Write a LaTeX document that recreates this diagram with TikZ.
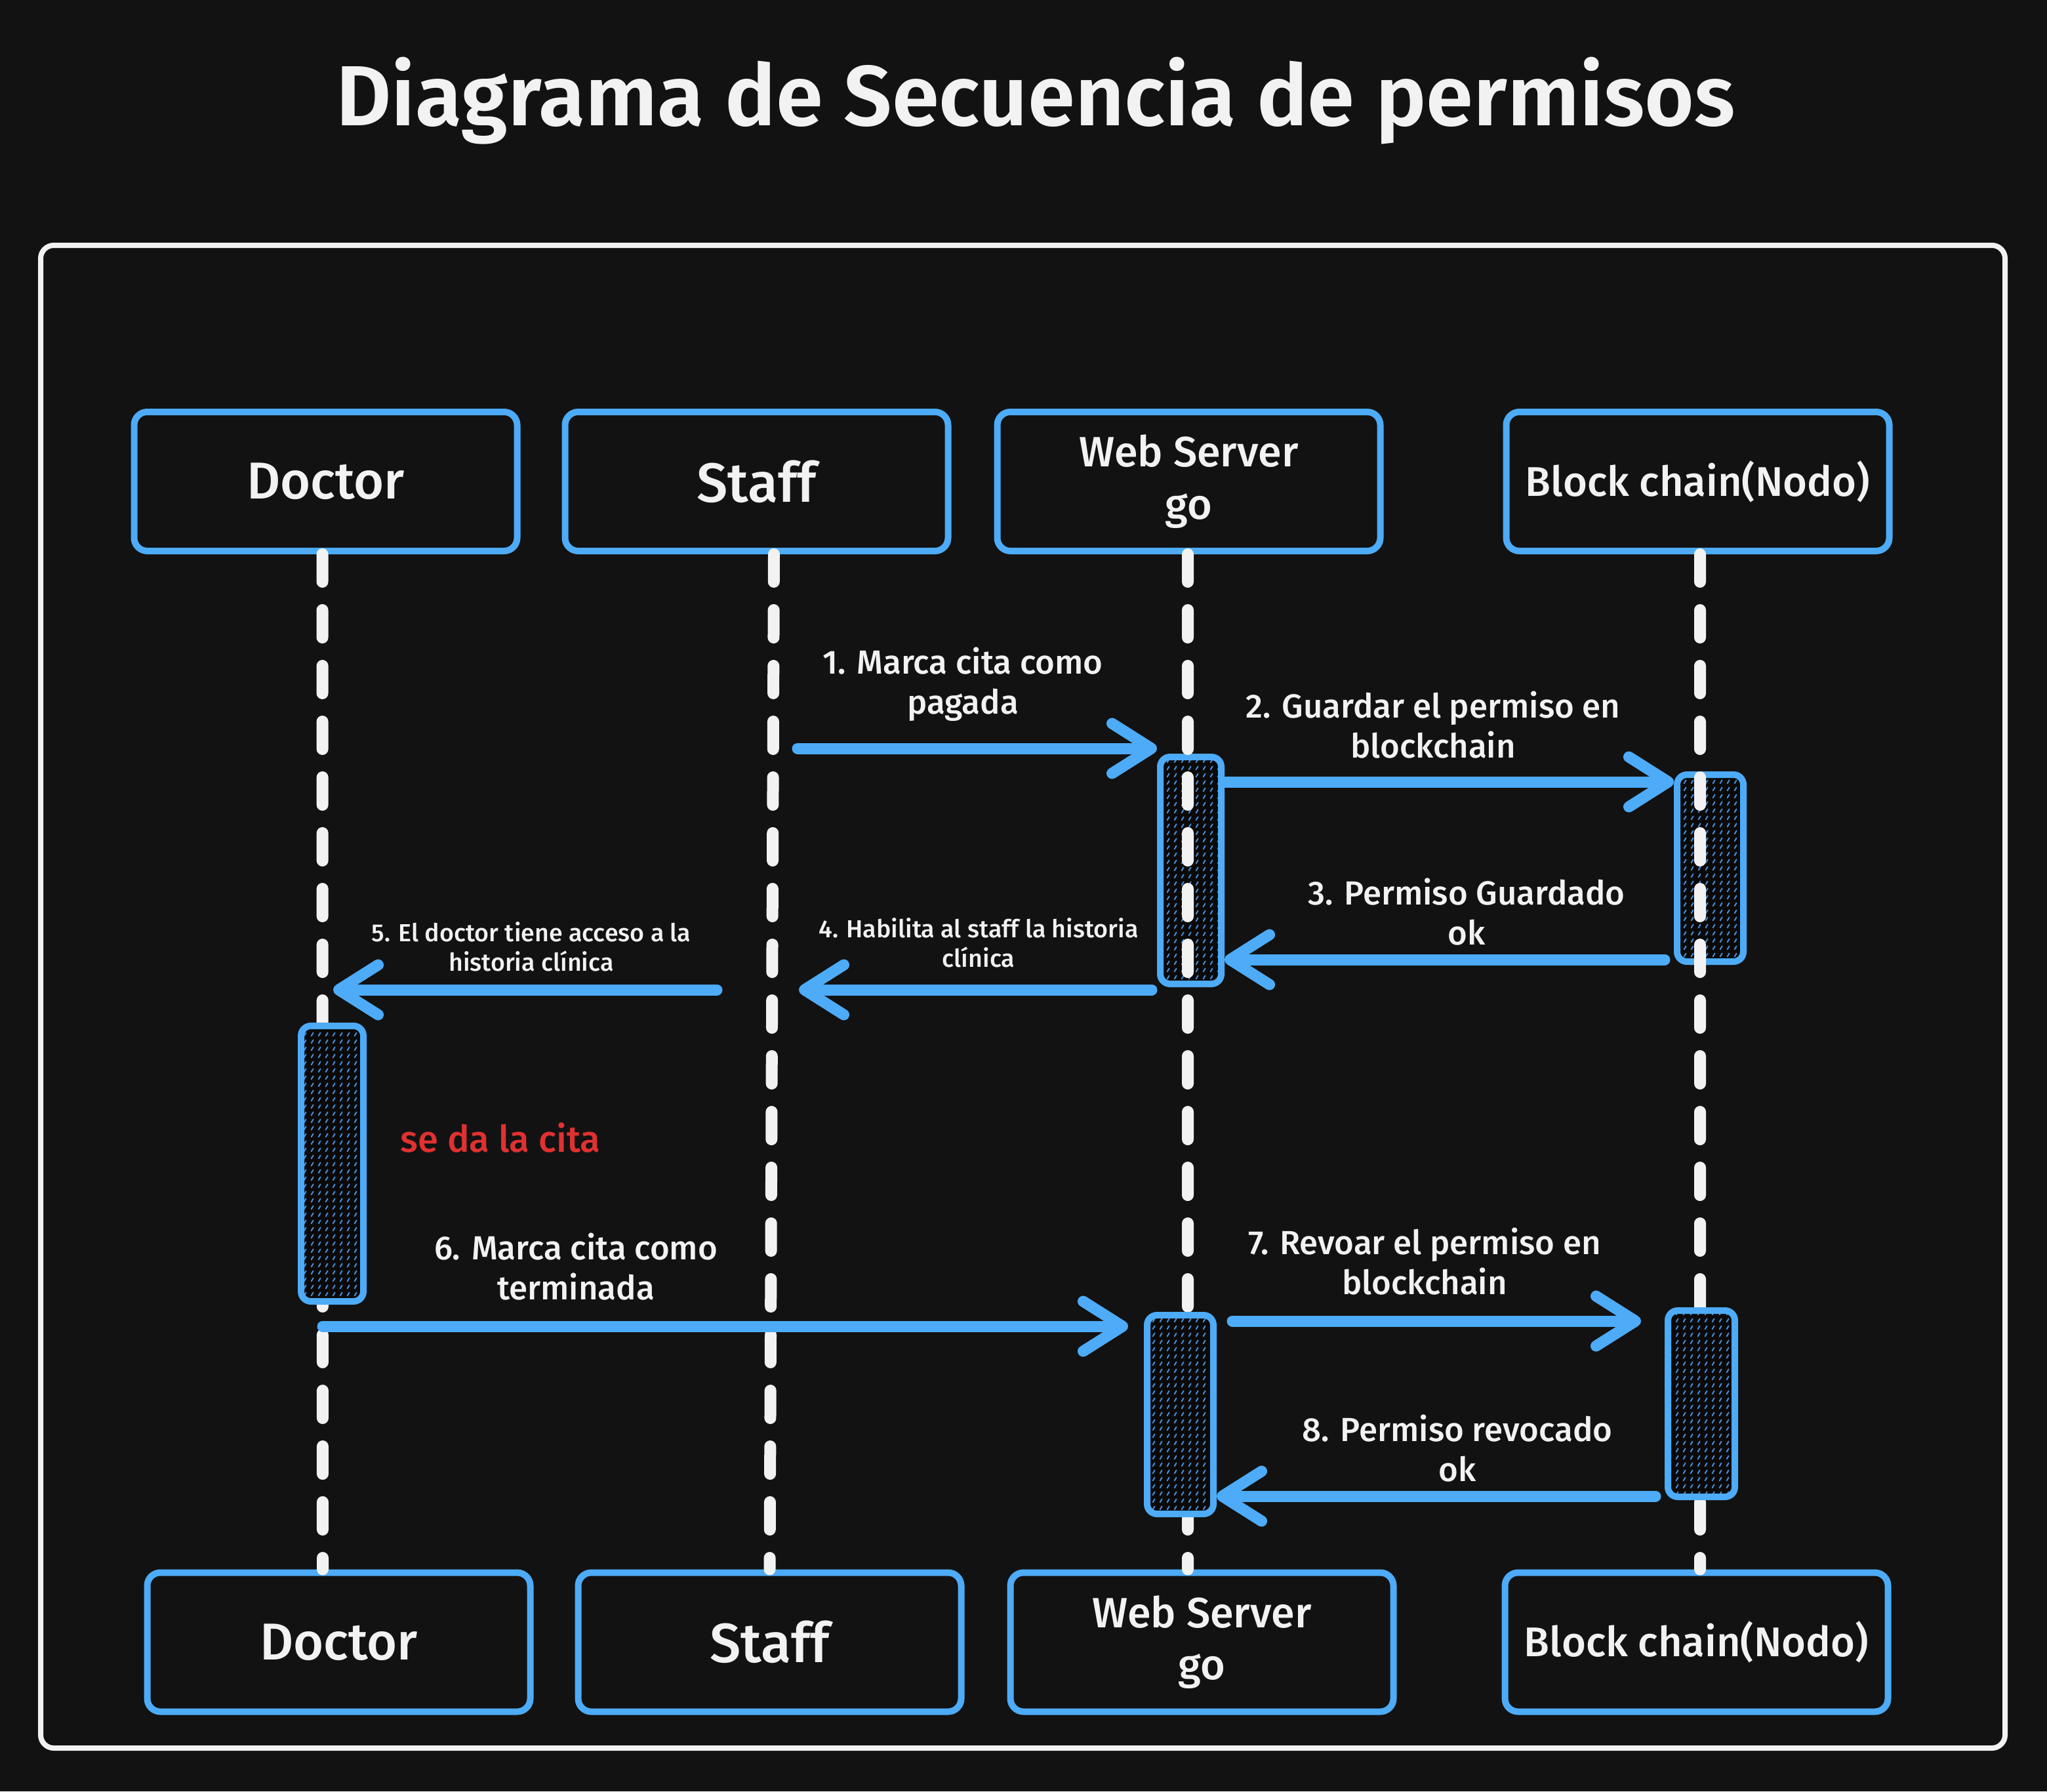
\documentclass[tikz,border=0pt]{standalone}
\usepackage{fontspec}
\setmainfont{Fira Sans}[UprightFont=* Medium,BoldFont=* SemiBold]
\usetikzlibrary{arrows.meta,positioning,patterns}
\definecolor{bgc}{HTML}{121212}
\definecolor{ublue}{HTML}{4DABF7}
\definecolor{hatchc}{HTML}{4A8ED6}
\definecolor{actfill}{HTML}{0A0A0A}
\definecolor{ink}{HTML}{F2F2F2}
\definecolor{notec}{HTML}{E03131}
\pgfdeclarepatternformonly{dashhatch}{\pgfqpoint{0pt}{0pt}}{\pgfqpoint{3.2pt}{3.2pt}}{\pgfqpoint{3.2pt}{3.2pt}}{%
  \pgfsetlinewidth{0.6pt}\pgfsetroundcap
  \pgfpathmoveto{\pgfqpoint{1.1pt}{0.8pt}}\pgfpathlineto{\pgfqpoint{2.0pt}{2.3pt}}\pgfusepath{stroke}}

\begin{document}
\begin{tikzpicture}[>=Stealth,node distance=6.6mm,every node/.style={font=\small,text=ink},
  actor/.style={draw=ublue,line width=1mm,rounded corners=2mm,minimum width=5.84cm,minimum height=2.12cm,align=center,fill=bgc},
  act/.style={draw=ublue,line width=1mm,rounded corners=1.5mm,inner sep=0pt,preaction={fill=actfill},pattern=dashhatch,pattern color=hatchc},
  life/.style={draw=ink,line width=1.8mm,line cap=round,dash pattern=on 4.2mm off 4.3mm},
  msg/.style={draw=ublue,line width=1.7mm,line cap=round,-{Straight Barb[length=6mm,width=7.6mm,line cap=round,line join=round]}},
  lbl/.style={align=center,font=\fontsize{14.5}{17.5}\selectfont},
  lbls/.style={align=center,font=\fontsize{10.7}{12.8}\selectfont}]
\fill[bgc] (0,0) rectangle (31.21,-27.31);\useasboundingbox (0,0) rectangle (31.21,-27.31);
\draw[ink,line width=0.8mm,rounded corners=2mm] (0.62,-3.74) rectangle (30.57,-26.65);
\node[font=\fontsize{37}{44}\selectfont\bfseries,anchor=base] (title) at (15.79,-1.92) {Diagrama de Secuencia de permisos};
% participants
\node[actor,font=\fontsize{22.5}{26}\selectfont] (d1) at (4.965,-7.34) {Doctor};
\node[actor,font=\fontsize{24}{28}\selectfont,right=6.3mm of d1] (s1) {Staff};
\node[actor,font=\fontsize{18.4}{22.7}\selectfont,right=6.5mm of s1] (w1) {Web Server\\go};
\node[actor,font=\fontsize{18}{22}\selectfont,right=18.2mm of w1] (b1) {Block chain(Nodo)};
\node[actor,font=\fontsize{22.5}{26}\selectfont] (d2) at (5.165,-25.035) {Doctor};
\node[actor,font=\fontsize{24}{28}\selectfont,right=6.3mm of d2] (s2) {Staff};
\node[actor,font=\fontsize{18.4}{22.7}\selectfont,right=6.5mm of s2] (w2) {Web Server\\go};
\node[actor,font=\fontsize{18}{22}\selectfont,right=16mm of w2] (b2) {Block chain(Nodo)};
% activations under the lifelines
\node[act,minimum width=0.93cm,minimum height=3.46cm] (aw1) at (18.155,-13.27) {};
\node[act,minimum width=1.01cm,minimum height=2.85cm] (ab1) at (26.075,-13.235) {};
% lifelines
\draw[life] ([xshift=-0.5mm]d1.south) -- ([xshift=-2.45mm]d2.north);
\draw[life] ([xshift=2.65mm]s1.south) -- (s2.north);
\draw[life] ([xshift=-0.15mm]w1.south) -- ([xshift=-2.15mm]w2.north);
\draw[life] ([xshift=0.35mm]b1.south) -- ([xshift=0.55mm]b2.north);
% activations over the lifelines
\node[act,minimum width=0.95cm,minimum height=4.20cm] (ad) at (5.065,-17.74) {};
\node[act,minimum width=1.01cm,minimum height=3.03cm] (aw2) at (17.995,-21.565) {};
\node[act,minimum width=1.02cm,minimum height=2.84cm] (ab2) at (25.94,-21.40) {};
% messages
\coordinate (m1) at (12.16,-11.41);\coordinate (y2) at (0,-11.92);\coordinate (y3) at (0,-14.63);
\coordinate (y4) at (0,-15.09);\coordinate (t4) at (12.18,-15.09);
\coordinate (f5) at (10.93,-15.09);\coordinate (t5) at (5.08,-15.09);
\coordinate (f6) at (4.92,-20.22);\coordinate (y7) at (0,-20.14);\coordinate (y8) at (0,-22.81);
\draw[msg] (m1) -- (m1 -| aw1.west);
\draw[msg] (aw1.east |- y2) -- (ab1.west |- y2);
\draw[msg] ([xshift=-1.4mm]ab1.west |- y3) -- (aw1.east |- y3);
\draw[msg] ([xshift=-0.8mm]aw1.west |- y4) -- (t4);
\draw[msg] (f5) -- (t5);
\draw[msg] (f6) -- ([xshift=-2.4mm]aw2.west |- f6);
\draw[msg] ([xshift=2.4mm]aw2.east |- y7) -- ([xshift=-3.6mm]ab2.west |- y7);
\draw[msg] ([xshift=-1.4mm]ab2.west |- y8) -- (aw2.east |- y8);
% labels
\node[lbl] (l1) at (14.68,-10.43) {1. Marca cita como\\pagada};
\node[lbl] (l2) at (21.85,-11.05) {2. Guardar el permiso en\\blockchain};
\node[lbl] (l3) at (22.36,-13.90) {3. Permiso Guardado\\ok};
\node[lbls] (l4) at (14.92,-14.37) {4. Habilita al staff la historia\\clínica};
\node[lbls] (l5) at (8.10,-14.43) {5. El doctor tiene acceso a la\\historia clínica};
\node[font=\fontsize{16}{19}\selectfont,text=notec] (note) at (7.63,-17.34) {se da la cita};
\node[lbl] (l6) at (8.78,-19.31) {6. Marca cita como\\terminada};
\node[lbl] (l7) at (21.72,-19.23) {7. Revoar el permiso en\\blockchain};
\node[lbl] (l8) at (22.22,-22.08) {8. Permiso revocado\\ok};
\end{tikzpicture}
\end{document}
